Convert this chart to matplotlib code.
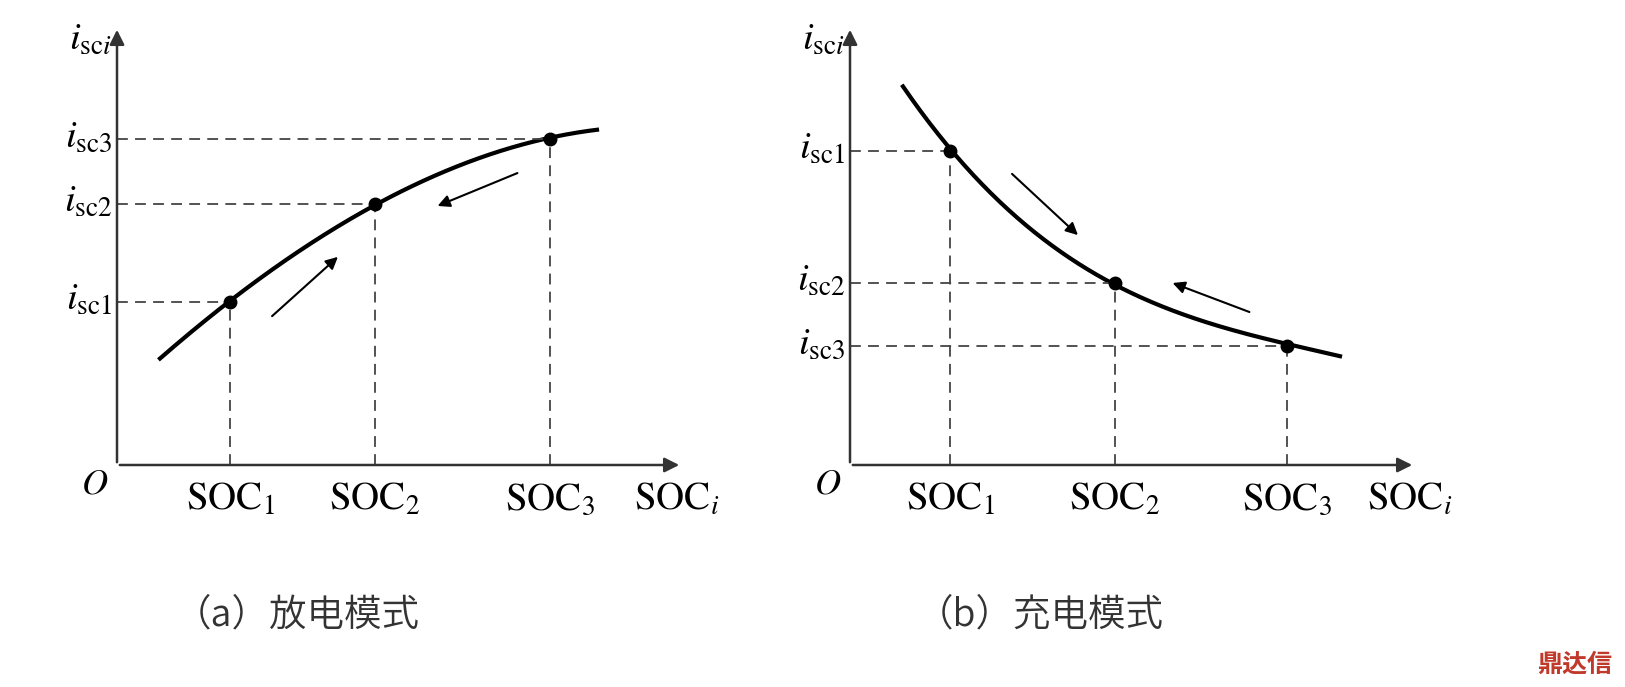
import numpy as np
import matplotlib.pyplot as plt
from matplotlib import font_manager

plt.rcParams['mathtext.fontset'] = 'stix'
plt.rcParams['font.family'] = 'Liberation Serif'

# panel (a): discharge mode
soc_a = [1.13, 2.58, 4.33]
isc_a = [1.63, 2.61, 3.26]
curve_ax = [0.43, 1.13, 2.58, 4.33, 4.80]
curve_ay = [1.07, 1.63, 2.61, 3.26, 3.36]
arrows_a = [((1.53, 1.47), (2.23, 2.10)), ((4.03, 2.93), (3.18, 2.58))]

# panel (b): charge mode
soc_b = [1.00, 2.65, 4.37]
isc_b = [3.14, 1.82, 1.19]
curve_bx = [0.53, 1.00, 2.65, 4.37, 4.90]
curve_by = [3.80, 3.14, 1.82, 1.19, 1.10]
arrows_b = [((1.60, 2.93), (2.30, 2.28)), ((4.02, 1.52), (3.20, 1.83))]

idx_labels = ['1', '2', '3']
captions = ['（a）放电模式', '（b）充电模式']

# find CJK font files: a light/regular one for captions, a bold one for the mark
files = [f for f in sorted(font_manager.findSystemFonts())
         if 'CJK' in f]
light = [f for f in files if 'Light' in f or 'Regular' in f]
bold = [f for f in files if 'Bold' in f]
fam = ['Noto Sans CJK SC', 'Noto Sans CJK JP']
if light:
    cjk_prop = font_manager.FontProperties(fname=light[0], size=27)
else:
    cjk_prop = font_manager.FontProperties(family=fam, size=27)
if bold:
    mark_prop = font_manager.FontProperties(fname=bold[0], size=18)
elif files:
    mark_prop = font_manager.FontProperties(fname=files[0], size=18)
else:
    mark_prop = font_manager.FontProperties(family=fam, size=18)

fig = plt.figure(figsize=(16.25, 6.87), dpi=100)
W, H = 1625, 687


def panel(ox, soc, isc, cx, cy, arrows, caption, cap_x):
    ax = fig.add_axes([ox / W, 1 - 465 / H, 570 / W, 440 / H])
    ax.set_xlim(0, 5.7)
    ax.set_ylim(0, 4.4)
    ax.axis('off')
    ax.patch.set_alpha(0)
    kw = dict(arrowstyle='-|>', color='#333333', lw=1.8, mutation_scale=22)
    ax.annotate('', xy=(5.65, 0), xytext=(0, 0), arrowprops=kw,
                annotation_clip=False)
    ax.annotate('', xy=(0, 4.38), xytext=(0, 0), arrowprops=kw,
                annotation_clip=False)
    c = np.polyfit(cx, cy, 3)
    xs = np.linspace(cx[0], cx[-1], 200)
    ax.plot(xs, np.polyval(c, xs), color='black', lw=3)
    for x, y in zip(soc, isc):
        ax.plot([0, x], [y, y], ls=(0, (6, 4)), color='#444444', lw=1.3)
        ax.plot([x, x], [0, y], ls=(0, (6, 4)), color='#444444', lw=1.3)
    ax.plot(soc, isc, 'o', color='black', ms=9)
    for (x0, y0), (x1, y1) in arrows:
        ax.annotate('', xy=(x1, y1), xytext=(x0, y0),
                    arrowprops=dict(arrowstyle='-|>', color='black', lw=1.5,
                                    mutation_scale=18))
    for x, k in zip(soc, idx_labels):
        ax.text(x, -0.35, r'$\mathrm{SOC}_{%s}$' % k, ha='center', va='center',
                fontsize=28, clip_on=False)
    ax.text(5.6, -0.35, r'$\mathrm{SOC}_{i}$', ha='center', va='center',
            fontsize=28, clip_on=False)
    ax.text(-0.22, -0.2, r'$O$', ha='center', va='center', fontsize=26,
            clip_on=False)
    for y, k in zip(isc, idx_labels):
        ax.text(-0.05, y + 0.02, r'$i_{\mathrm{sc%s}}$' % k, ha='right',
                va='center', fontsize=28, clip_on=False)
    ax.text(-0.05, 4.25, r'$i_{\mathrm{sc}i}$', ha='right', va='center',
            fontsize=28, clip_on=False)
    ax.text(cap_x, -1.5, caption, ha='center', va='center',
            fontproperties=cjk_prop, color='#333333', clip_on=False)


panel(117, soc_a, isc_a, curve_ax, curve_ay, arrows_a, captions[0], 1.8)
panel(850, soc_b, isc_b, curve_bx, curve_by, arrows_b, captions[1], 1.9)
fig.text(1575 / W, 1 - 665 / H, '鼎达信', ha='center', va='center',
         fontproperties=mark_prop, color='#c0392b')
fig.savefig('out.png', dpi=100)
